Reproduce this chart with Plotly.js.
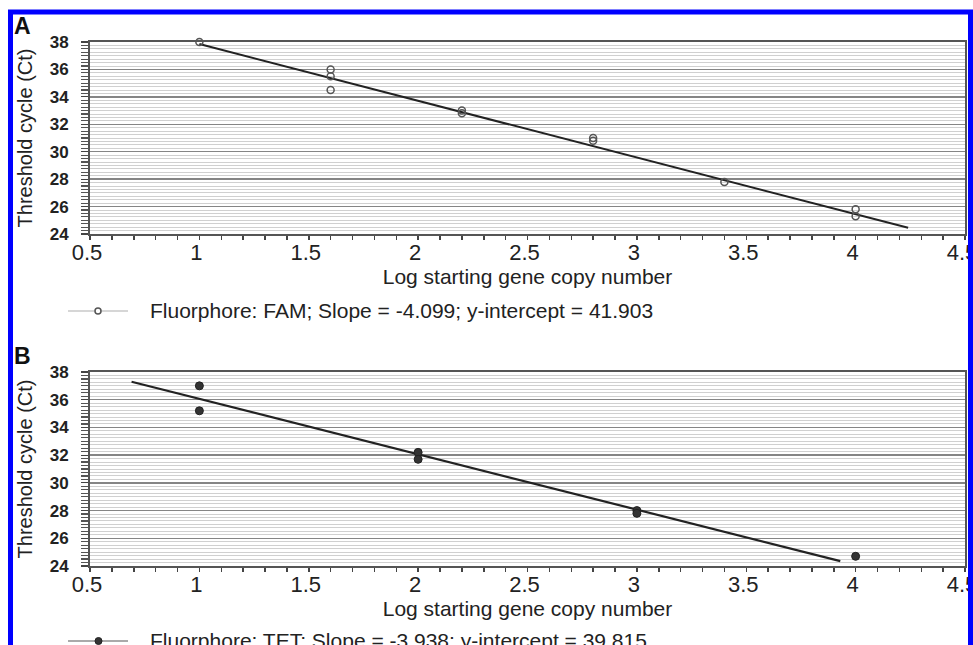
<!DOCTYPE html>
<html>
<head>
<meta charset="utf-8">
<script src="https://cdn.plot.ly/plotly-3.0.1.min.js"></script>
<style>html,body{margin:0;padding:0;background:#fff;}#chart{width:973px;height:645px;}</style>
</head>
<body>
<div id="chart"></div>
<script>
// Panel A (FAM) data points
const famX = [1.0, 1.6, 1.6, 1.6, 2.2, 2.2, 2.8, 2.8, 3.4, 4.0, 4.0];
const famY = [38.0, 36.0, 35.5, 34.5, 33.0, 32.8, 31.0, 30.8, 27.8, 25.8, 25.3];
// Panel A fitted line (end points)
const famFitX = [1.0, 4.24];
const famFitY = [37.85, 24.45];
const famLabel = "Fluorphore: FAM; Slope = -4.099; y-intercept = 41.903";

// Panel B (TET) data points
const tetX = [1.0, 1.0, 2.0, 2.0, 3.0, 3.0, 4.0];
const tetY = [37.0, 35.2, 32.2, 31.7, 28.0, 27.8, 24.7];
// Panel B fitted line (end points)
const tetFitX = [0.69, 3.93];
const tetFitY = [37.3, 24.35];
const tetLabel = "Fluorphore: TET; Slope = -3.938; y-intercept = 39.815";

const xTitle = "Log starting gene copy number";
const yTitle = "Threshold cycle (Ct)";
const xTicks = [0.5, 1, 1.5, 2, 2.5, 3, 3.5, 4, 4.5];
const yTicks = [24, 26, 28, 30, 32, 34, 36, 38];

const W = 973, H = 645;
const px = v => v / W;
const py = v => 1 - v / H;

const FONT = 'Liberation Sans, Arial, sans-serif';

const traces = [
  {x: famFitX, y: famFitY, mode: 'lines', line: {color: '#222', width: 2}, showlegend: false, xaxis: 'x', yaxis: 'y', hoverinfo: 'skip'},
  {x: famX, y: famY, mode: 'markers', name: famLabel, showlegend: false, cliponaxis: false,
   marker: {symbol: 'circle-open', size: 7, color: '#555', line: {width: 1.5, color: '#555'}},
   xaxis: 'x', yaxis: 'y'},
  {x: tetFitX, y: tetFitY, mode: 'lines', line: {color: '#222', width: 2.2}, showlegend: false, xaxis: 'x2', yaxis: 'y2', hoverinfo: 'skip'},
  {x: tetX, y: tetY, mode: 'markers', name: tetLabel, showlegend: false, cliponaxis: false,
   marker: {symbol: 'circle', size: 8, color: '#333', line: {width: 1, color: '#222'}},
   xaxis: 'x2', yaxis: 'y2'}
];

function xAxis(domain, anchor){
  return {
    domain: domain, anchor: anchor, range: [0.5, 4.5], autorange: false,
    tickvals: xTicks, ticktext: xTicks.map(String),
    ticks: 'outside', ticklen: 4, tickwidth: 1.5, tickcolor: '#444',
    minor: {dtick: 0.1, tick0: 0.5, ticks: 'outside', ticklen: 4, tickwidth: 1.5, tickcolor: '#444', showgrid: false},
    showgrid: false, zeroline: false,
    showline: true, linecolor: '#555', linewidth: 2, mirror: true,
    tickfont: {family: FONT, size: 22, color: '#222'},
    ticklabeloverflow: 'allow',
    ticklabelstandoff: -6,
    ticklabelshift: -3,
    title: {text: xTitle, font: {family: FONT, size: 21, color: '#222'}, standoff: 2},
    automargin: false, fixedrange: true
  };
}
function yAxis(domain, anchor){
  return {
    domain: domain, anchor: anchor, range: [24, 38], autorange: false,
    tickvals: yTicks, ticktext: yTicks.map(String),
    ticks: 'outside', ticklen: 7, tickwidth: 1.2, tickcolor: '#444',
    minor: {dtick: 0.25, tick0: 24, ticks: 'outside', ticklen: 7, tickwidth: 1.2, tickcolor: '#555',
            showgrid: true, gridcolor: '#d0d0d0', gridwidth: 1},
    showgrid: true, gridcolor: '#858585', gridwidth: 1.5, zeroline: false,
    showline: true, linecolor: '#555', linewidth: 2, mirror: true,
    tickfont: {family: FONT, size: 17, color: '#222', weight: 'bold'},
    ticklabelstandoff: 9,
    title: {text: yTitle, font: {family: FONT, size: 20, color: '#222'}, standoff: 12},
    automargin: false, fixedrange: true
  };
}

const legendText = {family: FONT, size: 21, color: '#222'};

const layout = {
  width: W, height: H,
  margin: {l: 0, r: 0, t: 0, b: 0},
  paper_bgcolor: '#fff', plot_bgcolor: '#fff',
  font: {family: FONT, color: '#222'},
  showlegend: false,
  xaxis: xAxis([px(90), px(965)], 'y'),
  yaxis: yAxis([py(234), py(42)], 'x'),
  xaxis2: xAxis([px(90), px(965)], 'y2'),
  yaxis2: yAxis([py(566), py(372)], 'x2'),
  annotations: [
    {text: '<b>A</b>', xref: 'paper', yref: 'paper', x: px(12), y: py(26), xanchor: 'left', yanchor: 'middle',
     showarrow: false, font: {family: FONT, size: 23, color: '#111'}},
    {text: '<b>B</b>', xref: 'paper', yref: 'paper', x: px(12), y: py(356), xanchor: 'left', yanchor: 'middle',
     showarrow: false, font: {family: FONT, size: 23, color: '#111'}},
    {text: famLabel, xref: 'paper', yref: 'paper', x: px(148), y: py(311), xanchor: 'left', yanchor: 'middle',
     showarrow: false, font: legendText},
    {text: tetLabel, xref: 'paper', yref: 'paper', x: px(148), y: py(640), xanchor: 'left', yanchor: 'middle',
     showarrow: false, font: legendText}
  ],
  shapes: [
    // legend keys
    {type: 'line', xref: 'paper', yref: 'paper', x0: px(68), x1: px(128), y0: py(311), y1: py(311),
     line: {color: '#c8c8c8', width: 1.5}},
    {type: 'circle', xref: 'paper', yref: 'paper', x0: px(95), x1: px(101), y0: py(314), y1: py(308),
     line: {color: '#555', width: 1.5}, fillcolor: '#fff'},
    {type: 'line', xref: 'paper', yref: 'paper', x0: px(68), x1: px(128), y0: py(641), y1: py(641),
     line: {color: '#aaaaaa', width: 2}},
    {type: 'circle', xref: 'paper', yref: 'paper', x0: px(95), x1: px(102), y0: py(644.5), y1: py(637.5),
     line: {color: '#222', width: 1}, fillcolor: '#333'},
    // blue frame
    {type: 'rect', xref: 'paper', yref: 'paper', x0: px(10.5), x1: px(970.5), y0: py(700), y1: py(12),
     line: {color: '#0000ff', width: 5}, fillcolor: 'rgba(0,0,0,0)', layer: 'above'}
  ]
};

Plotly.newPlot('chart', traces, layout, {displayModeBar: false, staticPlot: true});
</script>
</body>
</html>
